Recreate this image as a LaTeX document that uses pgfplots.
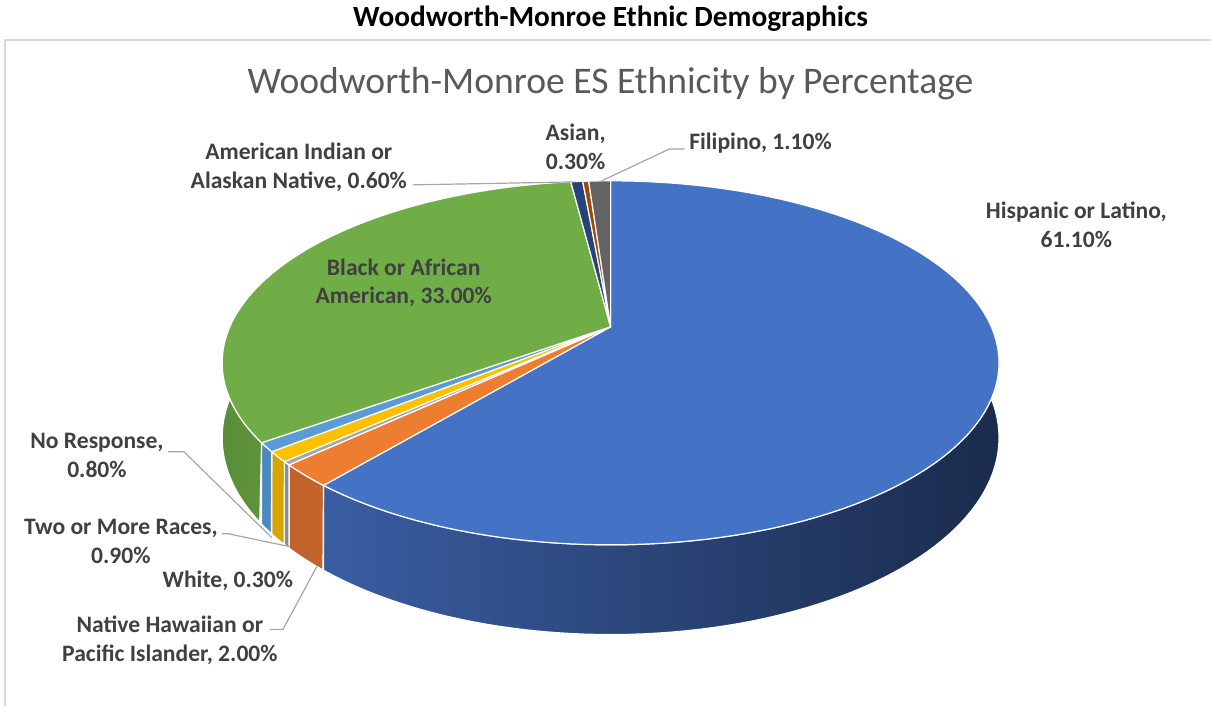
\documentclass[border=0pt]{standalone}
\usepackage{pgfplots}
\pgfplotsset{compat=1.18}
\usepackage{fontspec}
\setmainfont{Carlito}

\definecolor{cHis}{HTML}{4472C4}
\definecolor{cNHP}{HTML}{ED7D31}
\definecolor{cWhi}{HTML}{A5A5A5}
\definecolor{cTwo}{HTML}{FFC000}
\definecolor{cNoR}{HTML}{5B9BD5}
\definecolor{cBlk}{HTML}{70AD47}
\definecolor{cAmI}{HTML}{264478}
\definecolor{cAsi}{HTML}{9E480E}
\definecolor{cFil}{HTML}{636363}
\definecolor{lbl}{HTML}{404040}
\definecolor{ttl}{HTML}{595959}
\definecolor{lead}{HTML}{A6A6A6}
\definecolor{frame}{HTML}{D9D9D9}
% side colours
\definecolor{sHisL}{HTML}{3A5DA2}
\definecolor{sHisR}{HTML}{1A2B4C}
\definecolor{sNHPL}{HTML}{C0612A}
\definecolor{sNHPR}{HTML}{C4652C}
\definecolor{sWhi}{HTML}{8E8E8E}
\definecolor{sTwo}{HTML}{D9A300}
\definecolor{sNoR}{HTML}{4C87BE}
\definecolor{sBlkL}{HTML}{5A8C37}
\definecolor{sBlkR}{HTML}{5F943B}

% data (percent), in the order Excel draws them clockwise from 12 o'clock
\def\vHis{61.1}
\def\vNHP{2.0}
\def\vWhi{0.3}
\def\vTwo{0.9}
\def\vNoR{0.8}
\def\vBlk{33.0}
\def\vAmI{0.6}
\def\vAsi{0.3}
\def\vFil{1.1}

\pgfmathsetmacro\tot{\vHis+\vNHP+\vWhi+\vTwo+\vNoR+\vBlk+\vAmI+\vAsi+\vFil}
\pgfmathsetmacro\sc{360/\tot}
\pgfmathsetmacro\aA{90}
\pgfmathsetmacro\aB{\aA-\sc*\vHis}
\pgfmathsetmacro\aC{\aB-\sc*\vNHP}
\pgfmathsetmacro\aD{\aC-\sc*\vWhi}
\pgfmathsetmacro\aE{\aD-\sc*\vTwo}
\pgfmathsetmacro\aF{\aE-\sc*\vNoR}
\pgfmathsetmacro\aG{\aF-\sc*\vBlk}
\pgfmathsetmacro\aH{\aG-\sc*\vAmI}
\pgfmathsetmacro\aI{\aH-\sc*\vAsi}
\pgfmathsetmacro\aJ{\aI-\sc*\vFil}
% visible side ranges
\pgfmathsetmacro\sHisHi{min(\aA,10)}
\pgfmathsetmacro\sBlkLo{max(\aG,-190)}

\newcommand{\side}[4]{%
  \addplot[draw=white, line width=0.9pt, left color=#3, right color=#4,
    domain=0:2, samples=161, variable=\t]
  ({px(ifthenelse(\t<=1, (#1)+((#2)-(#1))*\t, (#2)-((#2)-(#1))*(\t-1)))},
   {ifthenelse(\t<=1, py((#1)+((#2)-(#1))*\t), pb((#2)-((#2)-(#1))*(\t-1)))}) -- cycle;}
\newcommand{\topw}[3]{%
  \addplot[fill=#3, draw=white, line width=0.9pt, domain=#1:#2, samples=120, variable=\t]
  ({px(\t)},{py(\t)}) -- (axis cs:611,327) -- cycle;}

\begin{document}
\begin{tikzpicture}
\begin{axis}[
  width=909pt, height=529.5pt, scale only axis,
  xmin=0, xmax=1212, ymin=0, ymax=706, y dir=reverse,
  hide axis, clip=false,
  declare function={
    px(\u)=611+381*cos(\u)/(1+0.198*sin(\u));
    py(\u)=327-175*sin(\u)/(1+0.198*sin(\u));
    pb(\u)=py(\u)+72/(1+0.198*sin(\u));
  },
]
\path (rel axis cs:0,0) rectangle (rel axis cs:1,1);
\draw[frame, line width=1.2pt] (axis cs:5,706) -- (axis cs:5,40) -- (axis cs:1212,40);

% side faces
\side{\aB}{\sHisHi}{sHisL}{sHisR}
\side{\aC}{\aB}{sNHPL}{sNHPR}
\side{\aD}{\aC}{sWhi}{sWhi}
\side{\aE}{\aD}{sTwo}{sTwo}
\side{\aF}{\aE}{sNoR}{sNoR}
\side{\sBlkLo}{\aF}{sBlkL}{sBlkR}

% top faces
\topw{\aB}{\aA}{cHis}
\topw{\aC}{\aB}{cNHP}
\topw{\aD}{\aC}{cWhi}
\topw{\aE}{\aD}{cTwo}
\topw{\aF}{\aE}{cNoR}
\topw{\aG}{\aF}{cBlk}
\topw{\aH}{\aG}{cAmI}
\topw{\aI}{\aH}{cAsi}
\topw{\aJ}{\aI}{cFil}

% titles
\node[font=\fontsize{22}{26}\selectfont\bfseries, text=black] at (axis cs:611,19) {Woodworth-Monroe Ethnic Demographics};
\node[font=\fontsize{28.2}{34}\selectfont, text=ttl] at (axis cs:611,84) {Woodworth-Monroe ES Ethnicity by Percentage};

% leader lines
\draw[lead, line width=0.9pt] (axis cs:413,185) -- (axis cs:575,182);
\draw[lead, line width=0.9pt] (axis cs:602,181) -- (axis cs:670,149) -- (axis cs:685,149);
\draw[lead, line width=0.9pt] (axis cs:168,452) -- (axis cs:184,452) -- (axis cs:272,538);
\draw[lead, line width=0.9pt] (axis cs:222,534) -- (axis cs:228,534) -- (axis cs:290,547);
\draw[lead, line width=0.9pt] (axis cs:270,630) -- (axis cs:283,630) -- (axis cs:317,567);

% data labels
\tikzset{dl/.style={font=\fontsize{17.7}{21.75}\selectfont\bfseries, text=lbl, align=center, inner sep=0pt}}
\node[dl] at (axis cs:1077,225) {Hispanic or Latino,\\61.10\%};
\node[dl] at (axis cs:404,283) {Black or African\\American, 33.00\%};
\node[dl] at (axis cs:299,167) {American Indian or\\Alaskan Native, 0.60\%};
\node[dl] at (axis cs:576,147) {Asian,\\0.30\%};
\node[dl] at (axis cs:761,143) {Filipino, 1.10\%};
\node[dl] at (axis cs:97,456) {No Response,\\0.80\%};
\node[dl] at (axis cs:121,542) {Two or More Races,\\0.90\%};
\node[dl] at (axis cs:228,581) {White, 0.30\%};
\node[dl] at (axis cs:170,641) {Native Hawaiian or\\Pacific Islander, 2.00\%};
\end{axis}
\end{tikzpicture}
\end{document}
